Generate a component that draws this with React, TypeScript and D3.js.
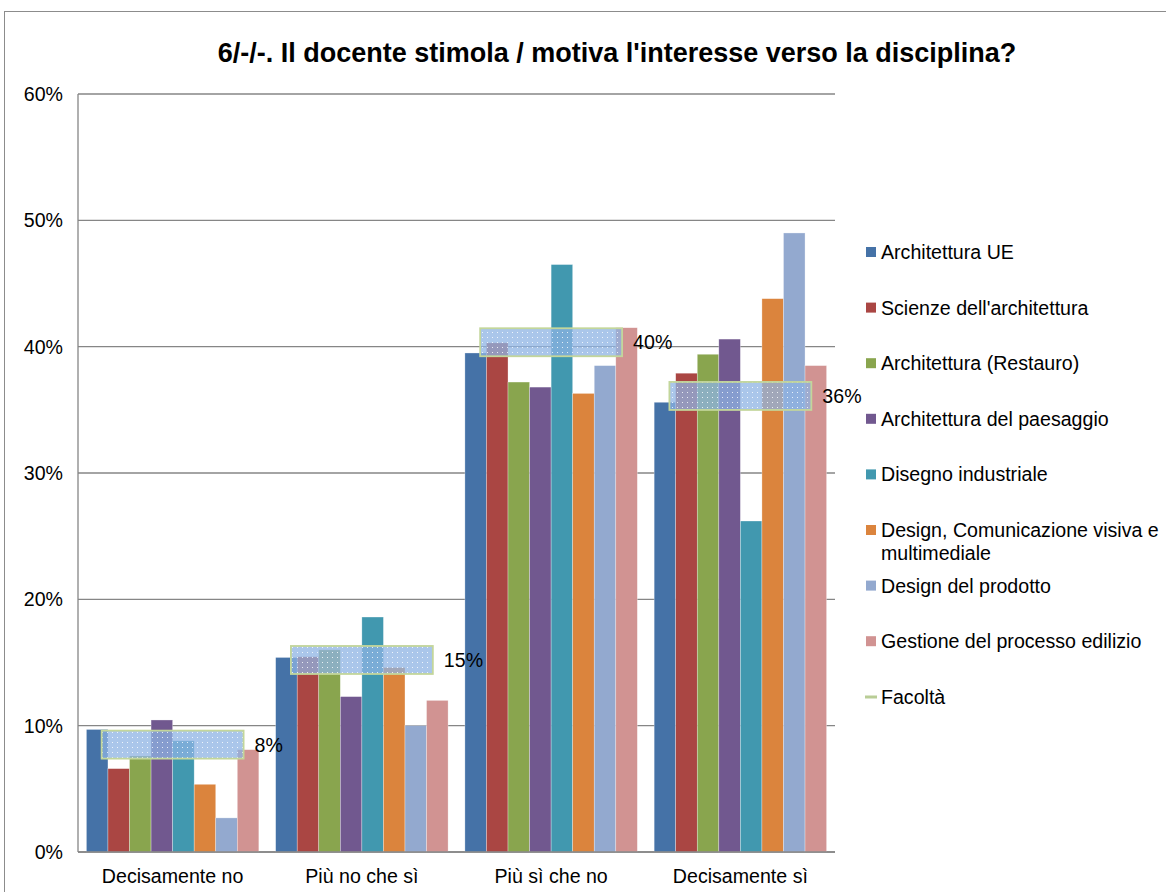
import { useEffect } from "react"
import * as d3 from "d3"

const categories = ["Decisamente no", "Più no che sì", "Più sì che no", "Decisamente sì"]

const seriesNames = [
  "Architettura UE",
  "Scienze dell'architettura",
  "Architettura (Restauro)",
  "Architettura del paesaggio",
  "Disegno industriale",
  "Design, Comunicazione visiva e multimediale",
  "Design del prodotto",
  "Gestione del processo edilizio",
]

const seriesColors = ["#4572A7", "#AA4643", "#89A54E", "#71588F", "#4198AF", "#DB843D", "#93A9CF", "#D19392"]

// values per series, one per category (%)
const architetturaUE = [9.7, 15.4, 39.5, 35.6]
const scienze = [6.6, 15.45, 40.3, 37.9]
const restauro = [7.6, 16.0, 37.2, 39.4]
const paesaggio = [10.45, 12.3, 36.8, 40.6]
const disegno = [8.8, 18.6, 46.5, 26.2]
const designCom = [5.36, 14.6, 36.3, 43.8]
const prodotto = [2.7, 10.0, 38.5, 49.0]
const gestione = [8.1, 12.0, 41.5, 38.5]

const facolta = [8.5, 15.2, 40.35, 36.1]
const facoltaLabels = ["8%", "15%", "40%", "36%"]

const yTicks = [0, 10, 20, 30, 40, 50, 60]

const seriesValues = [architetturaUE, scienze, restauro, paesaggio, disegno, designCom, prodotto, gestione]

export default function App() {
  useEffect(() => {
    document.body.style.margin = "0"
  }, [])

  const width = 1166
  const height = 892
  const plot = { left: 78, right: 835, top: 94, bottom: 852 }
  const font = "Liberation Sans, Arial, sans-serif"
  const fs = 19.6

  const x0 = d3.scaleBand().domain(categories).range([plot.left, plot.right]).paddingInner(0).paddingOuter(0)
  const x1 = d3
    .scaleBand()
    .domain(seriesNames)
    .range([0, x0.bandwidth()])
    .paddingOuter(0.39)
    .paddingInner(0)
  const y = d3.scaleLinear().domain([0, 60]).range([plot.bottom, plot.top])

  const boxW = x0.bandwidth() * 0.75
  const boxH = 28

  return (
    <svg width={width} height={height} style={{ display: "block", fontFamily: font }}>
      <defs>
        <pattern id="dots" width="5" height="5" patternUnits="userSpaceOnUse">
          <rect width="5" height="5" fill="#8DB3E2" fillOpacity="0.75" />
          <rect x="2" y="2" width="1" height="1" fill="#ffffff" fillOpacity="0.8" />
        </pattern>
      </defs>
      <rect x={4.5} y={11.5} width={1200} height={1000} fill="#fff" stroke="#8c8c8c" />

      <text x={617} y={62} textAnchor="middle" fontSize={27} fontWeight="bold" fill="#000">
        6/-/-. Il docente stimola / motiva l'interesse verso la disciplina?
      </text>

      {/* grid lines */}
      {yTicks.map((t) => (
        <g key={t}>
          <line x1={plot.left} x2={plot.right} y1={y(t)} y2={y(t)} stroke="#868686" strokeWidth={1.3} />
          <text x={63} y={y(t) + 7} textAnchor="end" fontSize={fs} fill="#000">
            {t}%
          </text>
        </g>
      ))}
      <line x1={plot.left} x2={plot.left} y1={plot.top} y2={plot.bottom} stroke="#868686" strokeWidth={1.3} />

      {/* bars */}
      {categories.map((c, ci) => (
        <g key={c} transform={`translate(${x0(c)},0)`}>
          {seriesNames.map((s, si) => (
            <rect
              key={s}
              x={x1(s)}
              y={y(seriesValues[si][ci])}
              width={x1.bandwidth()}
              height={plot.bottom - y(seriesValues[si][ci])}
              fill={seriesColors[si]}
              stroke="#ffffff"
              strokeOpacity={0.5}
              strokeWidth={0.6}
            />
          ))}
        </g>
      ))}

      {/* Facoltà markers */}
      {categories.map((c, ci) => {
        const cx = (x0(c) || 0) + x0.bandwidth() / 2
        const cy = y(facolta[ci])
        return (
          <g key={c}>
            <rect
              x={cx - boxW / 2}
              y={cy - boxH / 2}
              width={boxW}
              height={boxH}
              fill="url(#dots)"
              stroke="#C3D69B"
              strokeWidth={1.8}
            />
            <text x={cx + boxW / 2 + 11} y={cy + 7} fontSize={fs} fill="#000">
              {facoltaLabels[ci]}
            </text>
          </g>
        )
      })}

      <line x1={plot.left} x2={plot.right} y1={plot.bottom} y2={plot.bottom} stroke="#868686" strokeWidth={1.5} />

      {/* x labels */}
      {categories.map((c) => (
        <text key={c} x={(x0(c) || 0) + x0.bandwidth() / 2} y={883} textAnchor="middle" fontSize={fs} fill="#000">
          {c}
        </text>
      ))}

      {/* legend */}
      {seriesNames.map((s, i) => {
        const ly = 252 + i * 55.6
        const lines = i === 5 ? ["Design, Comunicazione visiva e", "multimediale"] : [s]
        return (
          <g key={s}>
            <rect x={866} y={ly - 5} width={10} height={10} fill={seriesColors[i]} />
            {lines.map((l, li) => (
              <text key={l} x={881} y={ly + 7 + li * 23} fontSize={fs} fill="#000">
                {l}
              </text>
            ))}
          </g>
        )
      })}
      <line x1={865} x2={877} y1={697} y2={697} stroke="#B9CD96" strokeWidth={3} />
      <text x={881} y={704} fontSize={fs} fill="#000">
        Facoltà
      </text>
    </svg>
  )
}
